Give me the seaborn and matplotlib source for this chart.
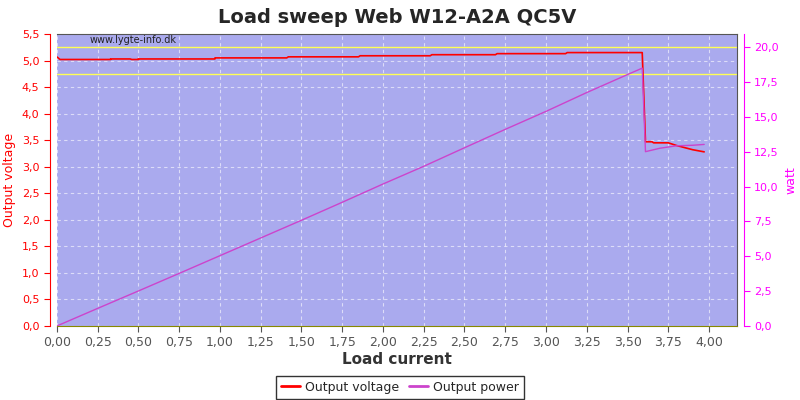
import numpy as np
import matplotlib
matplotlib.use("Agg")
import matplotlib.pyplot as plt
from matplotlib.ticker import FuncFormatter, MultipleLocator
import seaborn as sns

current_v = [0.00, 0.02, 0.33, 0.33, 0.45, 0.46, 0.50, 0.50, 0.97, 0.97, 1.41, 1.42,
             1.85, 1.86, 2.29, 2.30, 2.69, 2.70, 3.12, 3.13, 3.59, 3.61, 3.65, 3.66,
             3.75, 3.80, 3.85, 3.90, 3.97]
voltage = [5.07, 5.02, 5.02, 5.03, 5.03, 5.02, 5.02, 5.03, 5.03, 5.05, 5.05, 5.07,
           5.07, 5.09, 5.09, 5.11, 5.11, 5.13, 5.13, 5.15, 5.15, 3.47, 3.47, 3.45,
           3.45, 3.40, 3.36, 3.32, 3.28]

current_p = [0.00, 0.25, 0.50, 0.75, 1.00, 1.25, 1.50, 1.75, 2.00, 2.25, 2.50, 2.75,
             3.00, 3.25, 3.50, 3.59, 3.61, 3.70, 3.80, 3.90, 3.97]
power = [0.00, 1.26, 2.51, 3.77, 5.04, 6.31, 7.58, 8.87, 10.18, 11.45, 12.78, 14.10,
         15.39, 16.74, 18.03, 18.49, 12.50, 12.75, 12.92, 12.96, 13.02]

sns.set_style("white")
plt.rcParams["font.family"] = ["DejaVu Sans"]

comma = FuncFormatter(lambda v, p: f"{v:.2f}".replace(".", ","))
comma1 = FuncFormatter(lambda v, p: f"{v:.1f}".replace(".", ","))

fig = plt.figure(figsize=(8, 4), dpi=100)
ax = fig.add_axes([0.071, 0.185, 0.85, 0.73])
ax2 = ax.twinx()

ax.set_facecolor("#aaaaee")
ax.set_xlim(0, 4.17)
ax.set_ylim(0, 5.5)
ax2.set_ylim(0, 5.5 * 20 / 5.25 * 0.9993)

ax.grid(True, color="white", linestyle=(0, (3, 3)), linewidth=0.8, alpha=0.6)
ax.axhline(5.25, color="#ffff55", lw=1)
ax.axhline(4.75, color="#ffff55", lw=1)

sns.lineplot(x=current_v, y=voltage, ax=ax, color="red", lw=1.2,
             estimator=None, sort=False, label="Output voltage", legend=False)
sns.lineplot(x=current_p, y=power, ax=ax2, color="#cc44cc", lw=1.0,
             estimator=None, sort=False, label="Output power", legend=False)

ax.xaxis.set_major_locator(MultipleLocator(0.25))
ax.xaxis.set_major_formatter(comma)
ax.yaxis.set_major_locator(MultipleLocator(0.5))
ax.yaxis.set_major_formatter(comma1)
ax2.yaxis.set_major_locator(MultipleLocator(2.5))
ax2.yaxis.set_major_formatter(comma1)

for s in ["top", "right"]:
    ax.spines[s].set_color("#555555")
ax.spines["left"].set_color("red")
ax.spines["left"].set_position(("outward", 5))
ax.spines["bottom"].set_color("#888800")
ax2.spines["right"].set_color("#ff00ff")
ax2.spines["right"].set_position(("outward", 5))
ax2.spines["left"].set_visible(False)
ax2.spines["top"].set_visible(False)
ax2.spines["bottom"].set_visible(False)

ax.tick_params(axis="y", colors="red", labelsize=8, length=4, direction="out", left=True)
ax.tick_params(axis="x", colors="#555555", labelsize=9, length=4, direction="out", bottom=True)
ax2.tick_params(axis="y", colors="#ff00ff", labelsize=8, length=4, direction="out", right=True)

ax.set_xlabel("Load current", fontsize=11, fontweight="bold", color="#333333", labelpad=2)
ax.set_ylabel("Output voltage", fontsize=9, color="red")
ax2.set_ylabel("watt", fontsize=9, color="#ff00ff")
ax.set_title("Load sweep Web W12-A2A QC5V", fontsize=14, fontweight="bold", pad=8)

ax.text(0.2, 5.33, "www.lygte-info.dk", fontsize=7, color="#222222")

h1, l1 = ax.get_legend_handles_labels()
h2, l2 = ax2.get_legend_handles_labels()
leg = fig.legend(h1 + h2, l1 + l2, loc="lower center", bbox_to_anchor=(0.5, -0.012),
                 ncol=2, fontsize=9, frameon=True, fancybox=False,
                 handlelength=1.5, columnspacing=0.8, handletextpad=0.4)
leg.get_frame().set_edgecolor("black")
leg.get_frame().set_linewidth(1)
for line in leg.get_lines():
    line.set_linewidth(2)

fig.savefig("out.png", dpi=100)
